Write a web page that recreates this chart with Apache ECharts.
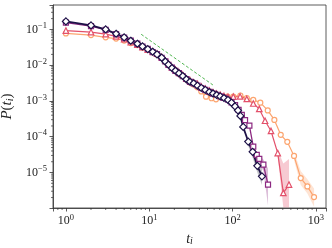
<!DOCTYPE html>
<html><head><meta charset="utf-8">
<script src="https://cdn.jsdelivr.net/npm/echarts@6/dist/echarts.min.js"></script>
<style>html,body{margin:0;padding:0;background:#fff}#c{width:332px;height:248px}</style>
</head><body><div id="c"></div>
<script>
// shared head x (bins)
const xHead = [1,2,3,4,5,6,7.2,8.3,9.6,11,12.4,14.1,15.6,17,18.7,20.6,22.7,25.2,27.9,30.8,34.1,37.9,42.1];

const navyHead = [0.167,0.129,0.100,0.0754,0.0598,0.0481,0.0397,0.0336,0.0282,0.0237,0.0201,0.0162,0.0125,0.0104,0.00834,0.0070,0.00593,0.00498,0.00403,0.00345,0.00312,0.00267,0.00233];
const navyTailX = [47,52.5,58.2,64.4,71.1,78.8,88,97,107,116,124,134,154,174,198,225];
const navyTailY = [0.00203,0.00178,0.00162,0.00147,0.00134,0.00121,0.00107,0.000896,0.000703,0.000543,0.000382,0.000188,7.33e-5,3.78e-5,1.54e-5,7.83e-6];

const purpleHead = [0.155,0.124,0.097,0.0735,0.059,0.0485,0.040,0.0330,0.0285,0.0232,0.0205,0.0160,0.0128,0.0102,0.0085,0.0069,0.0060,0.0049,0.0041,0.0034,0.0031,0.0027,0.0023];
const purpleTailX = [47,52.5,58.2,64.4,71.1,78.8,88,97,107,118,129,141,159,177,195,209,234,266];
const purpleTailY = [0.00205,0.00180,0.00160,0.00149,0.00135,0.00122,0.00108,0.00091,0.00077,0.00056,0.00041,0.00029,0.000205,5.3e-5,3.1e-5,2.4e-5,1.67e-5,4.6e-6];

const pinkHead = [0.0926,0.0841,0.0740,0.0638,0.0536,0.0442,0.0377,0.0321,0.0273,0.0245,0.0210,0.0170,0.0135,0.0112,0.0088,0.0075,0.0063,0.0054,0.0042,0.0038,0.0033,0.0030,0.0025];
const pinkTailX = [47,52.5,58.2,64.4,71.1,78.8,88,102,123,148,177,209,245,289,348,406,475];
const pinkTailY = [0.0022,0.00195,0.00175,0.0016,0.00148,0.00138,0.0013,0.00132,0.00134,0.00114,0.00085,0.0006,0.00028,0.000145,3.5e-5,2.7e-6,4.6e-6];

const orangeHead = [0.0773,0.0693,0.0598,0.0554,0.0488,0.0415,0.0365,0.0310,0.0265,0.0228,0.0195,0.0158,0.0128,0.0106,0.0086,0.0072,0.0058,0.0050,0.0040,0.0033,0.0029,0.0024,0.00185];
const orangeTailX = [48,55.8,63.2,74.6,86.8,102,124,148,177,215,264,317,378,453,546,657,789,949];
const orangeTailY = [0.00132,0.00119,0.00111,0.00125,0.00132,0.00132,0.00142,0.00121,0.00107,0.000896,0.000543,0.000295,0.000113,7.2e-5,2.9e-5,7.0e-6,4.1e-6,2.06e-6];

// shaded uncertainty bands
const navyBandX = [154,174,198,225];
const navyBandLo = [5.5e-5,2.6e-5,1.0e-5,4.5e-6];
const navyBandHi = [9.5e-5,5.2e-5,2.3e-5,1.3e-5];
const purpleBandX = [195,209,234,266];
const purpleBandLo = [2.5e-5,1.8e-5,1.1e-5,1.2e-6];
const purpleBandHi = [3.6e-5,3.1e-5,2.3e-5,1.3e-5];
const pinkBandX = [348,406,475];
const pinkBandLo = [2.8e-5,1.05e-6,1.05e-6];
const pinkBandHi = [4.3e-5,1.8e-5,2.4e-5];
const orangeBandX = [546,657,789,949];
const orangeBandLo = [2.2e-5,4.5e-6,2.6e-6,1.1e-6];
const orangeBandHi = [3.8e-5,1.1e-5,6.5e-6,3.6e-6];

// reference power-law guide
const guideX = [8, 58];
const guideY = [0.073, 0.0028];

// ticks
const xMinorTicks = [0.8,0.9,2,3,4,5,6,7,8,9,20,30,40,50,60,70,80,90,200,300,400,500,600,700,800,900];
const yMinorTicks = [2e-6,3e-6,4e-6,5e-6,6e-6,7e-6,8e-6,9e-6,2e-5,3e-5,4e-5,5e-5,6e-5,7e-5,8e-5,9e-5,2e-4,3e-4,4e-4,5e-4,6e-4,7e-4,8e-4,9e-4,2e-3,3e-3,4e-3,5e-3,6e-3,7e-3,8e-3,9e-3,2e-2,3e-2,4e-2,5e-2,6e-2,7e-2,8e-2,9e-2,0.2,0.3,0.4];

const X_MIN = 0.7, X_MAX = 1320, Y_MIN = 1.02e-6, Y_MAX = 0.48;

const C_NAVY = '#1d1147', C_PURPLE = '#8c2981', C_PINK = '#e3506a', C_ORANGE = '#fca570', C_GREEN = '#3dae3d';
const SERIF = "'Liberation Serif', 'DejaVu Serif', serif";

function pair(xs, ys) { return xs.map((x, i) => [x, ys[i]]); }
function powLabel(v) {
  const e = Math.log10(v); const r = Math.round(e);
  if (Math.abs(e - r) > 1e-6) return '';
  return '{b|10}{sup|' + String(r).replace('-', '\u2212') + '}';
}
const richLab = {
  b: { fontFamily: SERIF, fontSize: 12, color: '#222' },
  sup: { fontFamily: SERIF, fontSize: 8.5, color: '#222', verticalAlign: 'top', padding: [0, 0, 7, 0] }
};

function lineSeries(name, xs, ys, color, symbol, size, width) {
  return {
    type: 'line', name, data: pair(xs, ys), symbol, symbolSize: size, showSymbol: true,
    lineStyle: { color, width }, itemStyle: { color: '#fff', borderColor: color, borderWidth: 1.2 },
    emphasis: { disabled: true }, silent: true, z: 3
  };
}
function bandSeries(xs, lo, hi, fill) {
  return {
    type: 'custom', data: [[xs[0], hi[0]]], silent: true, z: 2,
    renderItem: function (params, api) {
      const pts = [];
      for (let i = 0; i < xs.length; i++) pts.push(api.coord([xs[i], hi[i]]));
      for (let i = xs.length - 1; i >= 0; i--) pts.push(api.coord([xs[i], lo[i]]));
      return { type: 'polygon', shape: { points: pts }, style: { fill } };
    }
  };
}
function minorTickSeries(vals, isX) {
  return {
    type: 'custom', silent: true, z: 5,
    data: vals.map(v => isX ? [v, Y_MIN] : [X_MIN, v]),
    renderItem: function (params, api) {
      const p = api.coord([api.value(0), api.value(1)]);
      const shape = isX ? { x1: p[0], y1: p[1], x2: p[0], y2: p[1] + 2 } : { x1: p[0] - 2, y1: p[1], x2: p[0], y2: p[1] };
      return { type: 'line', shape, style: { stroke: '#333', lineWidth: 0.7 } };
    }
  };
}

const chart = echarts.init(document.getElementById('c'), null, { renderer: 'canvas' });
chart.setOption({
  animation: false,
  backgroundColor: '#fff',
  grid: { left: 53, right: 6, top: 5, bottom: 40, containLabel: false, outerBoundsMode: 'none',
          show: true, borderColor: '#333', borderWidth: 0.8, backgroundColor: 'transparent' },
  xAxis: {
    type: 'log', logBase: 10, min: X_MIN, max: X_MAX,
    name: '{it|t}{s|i}', nameLocation: 'middle', nameGap: 18,
    nameTextStyle: { rich: { it: { fontFamily: SERIF, fontStyle: 'italic', fontSize: 14, color: '#222' }, s: { fontFamily: SERIF, fontStyle: 'italic', fontSize: 10, color: '#222', verticalAlign: 'bottom', padding: [5, 0, 0, 0] } } },
    axisLine: { lineStyle: { color: '#333', width: 0.8 } },
    axisTick: { length: 3.5, lineStyle: { color: '#333', width: 0.8 } },
    axisLabel: { formatter: powLabel, rich: richLab, margin: 5 },
    splitLine: { show: false }
  },
  yAxis: {
    type: 'log', logBase: 10, min: Y_MIN, max: Y_MAX,
    name: '{it|P}{n|(}{it|t}{s|i}{n|)}', nameLocation: 'middle', nameGap: 34,
    nameTextStyle: { rich: {
      it: { fontFamily: SERIF, fontStyle: 'italic', fontSize: 15, color: '#222' },
      n: { fontFamily: SERIF, fontSize: 15, color: '#222' },
      s: { fontFamily: SERIF, fontStyle: 'italic', fontSize: 10, color: '#222', verticalAlign: 'bottom', padding: [5, 0, 0, 0] } } },
    axisLine: { lineStyle: { color: '#333', width: 0.8 } },
    axisTick: { length: 3.5, lineStyle: { color: '#333', width: 0.8 } },
    axisLabel: { formatter: powLabel, rich: richLab, margin: 6 },
    splitLine: { show: false }
  },
  series: [
    bandSeries(orangeBandX, orangeBandLo, orangeBandHi, 'rgba(252,165,112,0.3)'),
    bandSeries(pinkBandX, pinkBandLo, pinkBandHi, 'rgba(227,80,106,0.3)'),
    bandSeries(purpleBandX, purpleBandLo, purpleBandHi, 'rgba(140,41,129,0.3)'),
    bandSeries(navyBandX, navyBandLo, navyBandHi, 'rgba(60,60,80,0.3)'),
    lineSeries('orange', xHead.concat(orangeTailX), orangeHead.concat(orangeTailY), C_ORANGE, 'circle', 5, 1.2),
    lineSeries('pink', xHead.concat(pinkTailX), pinkHead.concat(pinkTailY), C_PINK, 'triangle', 5.5, 1.2),
    lineSeries('purple', xHead.concat(purpleTailX), purpleHead.concat(purpleTailY), C_PURPLE, 'rect', 5, 1.3),
    lineSeries('navy', xHead.concat(navyTailX), navyHead.concat(navyTailY), C_NAVY, 'diamond', 7, 1.8),
    { type: 'line', data: pair(guideX, guideY), symbol: 'none', silent: true, z: 4,
      lineStyle: { color: C_GREEN, width: 0.9, type: [3, 2] } },
    minorTickSeries(xMinorTicks, true),
    minorTickSeries(yMinorTicks, false)
  ]
});
</script>
</body></html>
